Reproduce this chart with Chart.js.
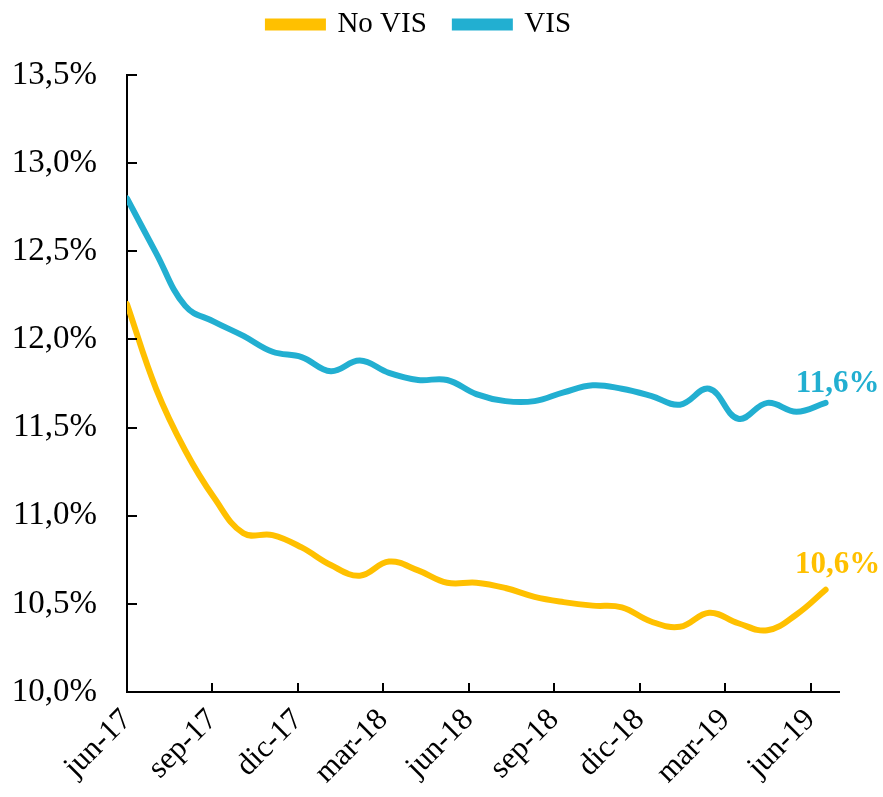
<!DOCTYPE html>
<html>
<head>
<meta charset="utf-8">
<script src="https://cdn.jsdelivr.net/npm/chart.js@4.4.1/dist/chart.umd.min.js"></script>
<style>
  body { margin: 0; background: #fff; }
  #wrap { width: 883px; height: 797px; }
</style>
</head>
<body>
<div id="wrap"><canvas id="grafico" width="883" height="797"></canvas></div>
<script>
// meses (jun-17 .. jun-19)
const meses = ['jun-17','jul-17','ago-17','sep-17','oct-17','nov-17','dic-17','ene-18','feb-18','mar-18','abr-18','may-18',
  'jun-18','jul-18','ago-18','sep-18','oct-18','nov-18','dic-18','ene-19','feb-19','mar-19','abr-19','may-19','jun-19'];
const noVis = [12.20, 11.72, 11.37, 11.10, 10.90, 10.89, 10.82, 10.72, 10.66, 10.74, 10.69, 10.62,
  10.62, 10.59, 10.54, 10.51, 10.49, 10.48, 10.40, 10.37, 10.45, 10.39, 10.35, 10.44, 10.58];
const vis = [12.80, 12.49, 12.19, 12.10, 12.02, 11.93, 11.90, 11.82, 11.88, 11.81, 11.77, 11.77,
  11.69, 11.65, 11.65, 11.70, 11.74, 11.72, 11.68, 11.63, 11.72, 11.55, 11.64, 11.59, 11.64];
const yTicks = [10.0, 10.5, 11.0, 11.5, 12.0, 12.5, 13.0, 13.5];

const AMARILLO = '#FFC000';
const AZUL = '#22AFD1';
const fuente = "'Liberation Serif', 'DejaVu Serif', serif";

const fmt = v => v.toFixed(1).replace('.', ',') + '%';
const aPuntos = arr => arr.map((v, i) => ({ x: i, y: v }));

// subir un poco la leyenda
const subirLeyenda = {
  id: 'subirLeyenda',
  afterLayout(chart) {
    chart.legend.top -= 26;
    chart.legend.bottom -= 26;
  }
};

// marcas de eje hacia dentro + etiqueta del ultimo valor
const extras = {
  id: 'extras',
  afterDatasetsDraw(chart) {
    const ctx = chart.ctx;
    const xs = chart.scales.x, ys = chart.scales.y;
    ctx.save();
    ctx.strokeStyle = '#000';
    ctx.lineWidth = 2;
    ys.ticks.forEach(t => {
      const py = Math.round(ys.getPixelForValue(t.value));
      ctx.beginPath(); ctx.moveTo(xs.left, py); ctx.lineTo(xs.left + 10, py); ctx.stroke();
    });
    xs.ticks.forEach(t => {
      const px = Math.round(xs.getPixelForValue(t.value));
      ctx.beginPath(); ctx.moveTo(px, ys.bottom); ctx.lineTo(px, ys.bottom - 9); ctx.stroke();
    });
    ctx.font = "bold 31px " + fuente;
    ctx.textAlign = 'center';
    ctx.textBaseline = 'alphabetic';
    chart.data.datasets.forEach((ds, i) => {
      const pts = chart.getDatasetMeta(i).data;
      const p = pts[pts.length - 1];
      const v = ds.data[ds.data.length - 1].y;
      ctx.fillStyle = ds.borderColor;
      ctx.fillText(fmt(v), p.x + 12, p.y - ds.dyEtiqueta);
    });
    ctx.restore();
  }
};

new Chart(document.getElementById('grafico').getContext('2d'), {
  type: 'line',
  data: {
    datasets: [{
      label: 'No VIS',
      data: aPuntos(noVis),
      borderColor: AMARILLO,
      backgroundColor: AMARILLO,
      borderWidth: 6,
      tension: 0.4,
      pointRadius: 0,
      borderCapStyle: 'round',
      xAxisID: 'xd',
      dyEtiqueta: 17
    }, {
      label: 'VIS',
      data: aPuntos(vis),
      borderColor: AZUL,
      backgroundColor: AZUL,
      borderWidth: 6,
      tension: 0.4,
      pointRadius: 0,
      borderCapStyle: 'round',
      xAxisID: 'xd',
      dyEtiqueta: 11
    }]
  },
  options: {
    responsive: false,
    animation: false,
    layout: { padding: { top: 8, right: 44, bottom: 0, left: 0 } },
    plugins: {
      legend: {
        position: 'top',
        labels: {
          color: '#000',
          font: { family: fuente, size: 29 },
          boxWidth: 55,
          boxHeight: 6,
          padding: 28
        }
      },
      tooltip: { enabled: false }
    },
    scales: {
      x: {
        type: 'linear',
        min: 0,
        max: meses.length,
        afterBuildTicks(scale) {
          scale.ticks = meses.map((m, i) => ({ value: i })).filter(t => t.value % 3 === 0);
        },
        afterFit(scale) { scale.height = 105; },
        grid: { display: false, drawTicks: false },
        border: { display: true, color: '#000', width: 2 },
        ticks: {
          autoSkip: false,
          maxRotation: 45,
          minRotation: 45,
          padding: 10,
          color: '#000',
          font: { family: fuente, size: 31 },
          callback: v => meses[v]
        }
      },
      xd: {
        type: 'linear',
        display: false,
        min: 0,
        max: 24.46
      },
      y: {
        min: 10,
        max: 13.5,
        afterBuildTicks(scale) {
          scale.ticks = yTicks.map(v => ({ value: v }));
        },
        afterFit(scale) { scale.width = 127; },
        grid: { display: false, drawTicks: false },
        border: { display: true, color: '#000', width: 2 },
        ticks: {
          padding: 30,
          color: '#000',
          font: { family: fuente, size: 33 },
          callback: v => fmt(v)
        }
      }
    }
  },
  plugins: [subirLeyenda, extras]
});
</script>
</body>
</html>
